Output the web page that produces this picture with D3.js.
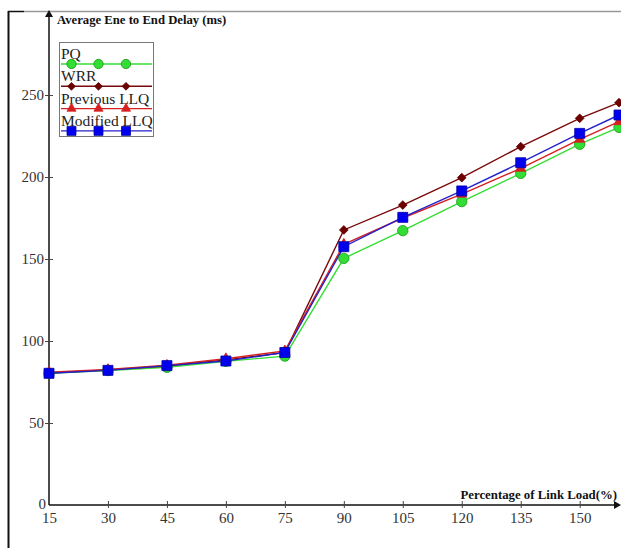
<!DOCTYPE html>
<html><head><meta charset="utf-8">
<script src="https://cdn.jsdelivr.net/npm/d3@7"></script>
<style>body{margin:0;background:#fff}svg{display:block}</style>
</head><body>
<svg id="c" width="621" height="548"></svg>
<script>
const loads = [15, 30, 45, 60, 75, 90, 105, 120, 135, 150, 160];
const xTicks = [15, 30, 45, 60, 75, 90, 105, 120, 135, 150];
const yTicks = [0, 50, 100, 150, 200, 250];
const pq       = [80.3, 82.0, 84.0, 87.6, 90.8, 150.4, 167.3, 185.0, 202.2, 220.0, 230.3];
const wrr      = [80.5, 82.4, 84.8, 88.5, 93.0, 167.7, 182.9, 199.6, 218.5, 235.8, 245.3];
const prevLLQ  = [81.0, 82.6, 85.2, 89.2, 94.0, 159.0, 175.0, 189.5, 205.3, 223.0, 233.7];
const modLLQ   = [80.3, 82.1, 85.0, 87.8, 93.0, 157.5, 175.4, 191.5, 208.7, 226.6, 237.8];
const seriesNames = ["PQ", "WRR", "Previous LLQ", "Modified LLQ"];

const series = [
  {name: seriesNames[0], values: pq, color: "#33dd33", fill: "#33dd33", stroke: "#119911", shape: d3.symbolCircle, size: 85, rot: 0},
  {name: seriesNames[1], values: wrr, color: "#7a0a0a", fill: "#6a0000", stroke: "#6a0000", shape: d3.symbolSquare, size: 38, rot: 45},
  {name: seriesNames[2], values: prevLLQ, color: "#d42020", fill: "#d42020", stroke: "#d42020", shape: d3.symbolTriangle, size: 45, rot: 0},
  {name: seriesNames[3], values: modLLQ, color: "#2222cc", fill: "#0000ee", stroke: "#0000aa", shape: d3.symbolSquare, size: 100, rot: 0}
];

const svg = d3.select("#c");
const font = "'Liberation Serif','Times New Roman',serif";

// outer frame
svg.append("line").attr("x1", 24).attr("x2", 621).attr("y1", 11.5).attr("y2", 11.5).attr("stroke", "#999").attr("stroke-width", 1.5);
svg.append("line").attr("x1", 8).attr("x2", 24).attr("y1", 11.5).attr("y2", 11.5).attr("stroke", "#111").attr("stroke-width", 1.5);
svg.append("line").attr("x1", 8.5).attr("x2", 8.5).attr("y1", 11).attr("y2", 548).attr("stroke", "#111").attr("stroke-width", 2);

const x = d3.scaleLinear().domain([15, 160]).range([49, 619]);
const y = d3.scaleLinear().domain([0, 250]).range([505, 95]);

// axes lines
const g = svg.append("g");
g.append("line").attr("x1", 49).attr("x2", 49).attr("y1", 14).attr("y2", 505).attr("stroke", "#111").attr("stroke-width", 1.5);
g.append("path").attr("d", "M45,17 L49,10 L53,17 Z").attr("fill", "#111");
g.append("line").attr("x1", 49).attr("x2", 616).attr("y1", 505).attr("y2", 505).attr("stroke", "#111").attr("stroke-width", 1.5);
g.append("path").attr("d", "M614,501 L621,505 L614,509 Z").attr("fill", "#111");

// y ticks
const yAxis = d3.axisLeft(y).tickValues(yTicks).tickSize(0).tickPadding(0).tickFormat(d3.format("d"));
const ya = svg.append("g").attr("transform", "translate(49,0)").call(yAxis);
ya.select(".domain").remove();
ya.selectAll(".tick").each(function(d) {
  const t = d3.select(this);
  if (d !== 0) t.append("line").attr("x1", -4).attr("x2", 4).attr("stroke", "#444").attr("stroke-width", 1);
  t.select("text").attr("x", d === 0 ? -3 : -5).attr("dy", d === 0 ? "0.2em" : "0.32em")
    .attr("font-family", font).attr("font-size", 15).attr("fill", "#333");
});

// x ticks
const xAxis = d3.axisBottom(x).tickValues(xTicks).tickSize(0).tickPadding(0).tickFormat(d3.format("d"));
const xa = svg.append("g").attr("transform", "translate(0,505)").call(xAxis);
xa.select(".domain").remove();
xa.selectAll(".tick").each(function(d) {
  const t = d3.select(this);
  if (d !== 15) t.append("line").attr("y1", -4).attr("y2", 3).attr("stroke", "#444").attr("stroke-width", 1);
  t.select("text").attr("y", 18).attr("dy", 0)
    .attr("font-family", font).attr("font-size", 15).attr("fill", "#333");
});

// axis titles
svg.append("text").attr("x", 57).attr("y", 24).attr("font-family", font).attr("font-size", 12.7).attr("font-weight", "bold").attr("fill", "#111")
  .text("Average Ene to End Delay (ms)");
svg.append("text").attr("x", 617).attr("y", 499).attr("text-anchor", "end").attr("font-family", font).attr("font-size", 12.8).attr("font-weight", "bold").attr("fill", "#111")
  .text("Percentage of Link Load(%)");

// lines
const line = d3.line().x((d, i) => x(loads[i])).y(d => y(d));
const plot = svg.append("g");
series.forEach(s => {
  plot.append("path").datum(s.values).attr("d", line).attr("fill", "none").attr("stroke", s.color).attr("stroke-width", 1.4);
});
series.forEach(s => {
  plot.selectAll(null).data(s.values).enter().append("path")
    .attr("transform", (d, i) => `translate(${x(loads[i])},${y(d)}) rotate(${s.rot})`)
    .attr("d", d3.symbol().type(s.shape).size(s.size))
    .attr("fill", s.fill).attr("stroke", s.stroke).attr("stroke-width", 0.8);
});

// legend
const lg = svg.append("g");
lg.append("rect").attr("x", 59.5).attr("y", 42.5).attr("width", 94).attr("height", 94).attr("fill", "#fff").attr("stroke", "#777").attr("stroke-width", 1);
series.forEach((s, i) => {
  const ly = 64 + i * 22.3;
  lg.append("text").attr("x", 61).attr("y", ly - 5).attr("font-family", font).attr("font-size", 15.5).attr("fill", "#222").text(s.name);
  lg.append("line").attr("x1", 61).attr("x2", 152).attr("y1", ly).attr("y2", ly).attr("stroke", s.color).attr("stroke-width", 1.4);
  [71.5, 98.5, 126].forEach(mx => {
    lg.append("path").attr("transform", `translate(${mx},${ly}) rotate(${s.rot})`)
      .attr("d", d3.symbol().type(s.shape).size(s.size * 0.8))
      .attr("fill", s.fill).attr("stroke", s.stroke).attr("stroke-width", 0.8);
  });
});
</script>
</body></html>
